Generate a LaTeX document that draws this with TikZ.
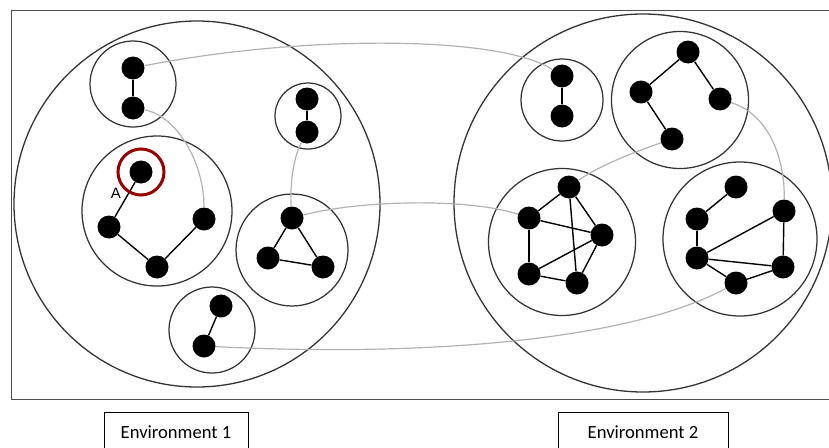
\documentclass[tikz,border=0pt]{standalone}
\usepackage{fontspec}
\setmainfont{Carlito}
\newfontfamily\labelfont{Liberation Sans}
\usetikzlibrary{backgrounds}

\begin{document}
\begin{tikzpicture}[
  x=1pt, y=-1pt,
  dot/.style={circle, fill=black, inner sep=0pt, minimum size=23pt},
  group/.style={circle, draw=black!80, line width=1.25pt, inner sep=0pt},
  envcircle/.style={circle, draw=black!80, line width=1.3pt, inner sep=0pt},
  link/.style={draw=black, line width=1.4pt},
  bridge/.style={draw=black!30, line width=1.2pt},
  envbox/.style={draw=black, line width=0.9pt, minimum height=40pt, inner sep=0pt, font=\fontsize{18.6}{22}\selectfont}
]
\useasboundingbox (0,0) rectangle (829,447);
\draw[black!70, line width=1pt] (830,10) -- (11,10) -- (11,399) -- (830,399);

% environments
\node[envcircle, minimum size=366pt] (env1) at (197,204) {};
\node[envcircle, minimum size=378pt] (env2) at (643,203) {};

% groups, environment 1
\node[group, minimum size=86pt] (g1) at (133,84) {};
\node[group, minimum size=66pt] (g2) at (308,116) {};
\node[group, minimum size=150pt] (g3) at (157,211) {};
\node[group, minimum size=112pt] (g4) at (292,250) {};
\node[group, minimum size=86pt] (g5) at (212,330) {};
% groups, environment 2
\node[group, minimum size=82pt] (g6) at (562,100) {};
\node[group, minimum size=137pt] (g7) at (680,100) {};
\node[group, minimum size=147pt] (g8) at (562,242) {};
\node[group, minimum size=154pt] (g9) at (740,239) {};

% agents
\node[dot] (p1a) at (133,68) {};
\node[dot] (p1b) at (133,108) {};
\node[dot] (p2a) at (307,99) {};
\node[dot] (p2b) at (307,132) {};
\node[dot] (nA) at (141,172) {};
\node[dot] (c3a) at (109,227) {};
\node[dot] (c3b) at (157,267) {};
\node[dot] (c3c) at (204,219) {};
\node[dot] (t4a) at (292,218) {};
\node[dot] (t4b) at (268,258) {};
\node[dot] (t4c) at (323,267) {};
\node[dot] (p5a) at (221,306) {};
\node[dot] (p5b) at (204,346) {};
\node[dot] (p6a) at (562,76) {};
\node[dot] (p6b) at (562,116) {};
\node[dot] (q7a) at (688,52) {};
\node[dot] (q7b) at (641,92) {};
\node[dot] (q7c) at (720,99) {};
\node[dot] (q7d) at (672,139) {};
\node[dot] (f8a) at (569,187) {};
\node[dot] (f8b) at (529,218) {};
\node[dot] (f8c) at (602,235) {};
\node[dot] (f8d) at (529,274) {};
\node[dot] (f8e) at (577,283) {};
\node[dot] (s9a) at (736,187) {};
\node[dot] (s9b) at (697,219) {};
\node[dot] (s9c) at (784,211) {};
\node[dot] (s9d) at (697,258) {};
\node[dot] (s9e) at (783,267) {};
\node[dot] (s9f) at (736,283) {};

\foreach \a/\b in {p1a/p1b, p2a/p2b, nA/c3a, c3a/c3b, c3b/c3c, t4a/t4b, t4a/t4c, t4b/t4c,
  p5a/p5b, p6a/p6b, q7a/q7b, q7a/q7c, q7b/q7d,
  f8a/f8b, f8a/f8c, f8a/f8e, f8b/f8c, f8b/f8d, f8c/f8d, f8c/f8e, f8d/f8e,
  s9a/s9b, s9b/s9d, s9d/s9c, s9c/s9e, s9d/s9e, s9d/s9f, s9f/s9e}
  \draw[link] (\a) -- (\b);

% ties between groups
\draw[bridge] (p1a) .. controls (300,35) and (500,35) .. (p6a);
\draw[bridge] (p1b) .. controls (175,115) and (204,160) .. (c3c);
\draw[bridge] (p2b) .. controls (292,160) and (290,190) .. (t4a);
\draw[bridge] (t4a) .. controls (360,200) and (470,198) .. (f8b);
\draw[bridge] (p5b) .. controls (400,356) and (620,345) .. (s9f);
\draw[bridge] (q7d) .. controls (640,150) and (600,165) .. (f8a);
\draw[bridge] (q7c) .. controls (770,115) and (785,160) .. (s9c);

% marked agent
\node[circle, draw=red!60!black, line width=3pt, minimum size=46pt, inner sep=0pt] (ringA) at (nA) {};
\node[font=\labelfont\fontsize{15}{17}\selectfont, inner sep=0pt] (labA) at (116,193) {A};

\node[envbox, minimum width=144pt] (box1) at (176,432) {Environment 1};
\node[envbox, minimum width=170pt] (box2) at (643,432) {Environment 2};
\end{tikzpicture}
\end{document}
